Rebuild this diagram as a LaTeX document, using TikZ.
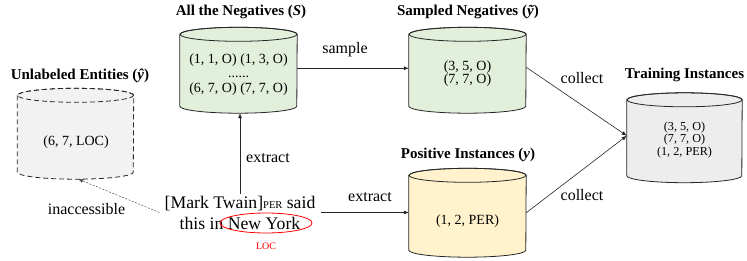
\documentclass[tikz,border=0pt]{standalone}
\usepackage{fontspec}
\setmainfont{Liberation Serif}
\usetikzlibrary{arrows.meta,shapes.geometric}
\definecolor{negfill}{RGB}{226,239,218}
\definecolor{posfill}{RGB}{255,242,204}
\definecolor{trainfill}{RGB}{237,237,237}
\definecolor{unlfill}{RGB}{242,242,242}
\newcommand\mycyl[3]{%
  \path[#3] (#1.north west) -- (#1.south west)
    arc[start angle=180,end angle=360,x radius=#2pt,y radius=7pt]
    -- (#1.north east)
    arc[start angle=0,end angle=180,x radius=#2pt,y radius=7pt] -- cycle;
  \path[#3,fill=none] (#1.north) ellipse[x radius=#2pt,y radius=7pt];}
\tikzset{
  body/.style={inner sep=0pt},
  cylline/.style={draw=black!85,line width=0.8pt},
  celltext/.style={font=\fontsize{14}{14.5}\selectfont,align=center,inner sep=0pt},
  title/.style={font=\fontsize{15}{17}\selectfont\bfseries,inner sep=0pt},
  lbl/.style={font=\fontsize{16}{18}\selectfont,inner sep=0pt},
  arr/.style={-{Latex[length=5pt,width=4pt]},line width=0.6pt,draw=black!85},
}
\begin{document}
\begin{tikzpicture}[x=1pt,y=1pt]
\useasboundingbox (0,0) rectangle (747,260);
% cylinder bodies
\node[body,minimum width=117pt,minimum height=71.5pt] (neg) at (238.5,189.75) {};
\node[body,minimum width=117pt,minimum height=71.5pt] (samp) at (467.5,189.75) {};
\node[body,minimum width=115pt,minimum height=75.5pt] (train) at (684.5,122.25) {};
\node[body,minimum width=116pt,minimum height=76.5pt] (unl) at (75.5,126.25) {};
\node[body,minimum width=117pt,minimum height=74.5pt] (pos) at (467.5,47.25) {};
\mycyl{neg}{58.5}{cylline,fill=negfill}
\mycyl{samp}{58.5}{cylline,fill=negfill}
\mycyl{train}{57.5}{cylline,fill=trainfill}
\mycyl{unl}{58}{cylline,fill=unlfill,dashed,dash pattern=on 5pt off 3pt}
\mycyl{pos}{58.5}{cylline,fill=posfill}
% contents
\node[celltext] (negtxt) at (238.5,185) {(1, 1, O) (1, 3, O)\\[-1pt]......\\[1pt](6, 7, O) (7, 7, O)};
\node[celltext,font=\fontsize{14}{13}\selectfont] (samptxt) at (467.5,186.5) {(3, 5, O)\\(7, 7, O)};
\node[celltext,font=\fontsize{12.2}{12.6}\selectfont] (traintxt) at (684.5,120) {(3, 5, O)\\(7, 7, O)\\(1, 2, PER)};
\node[celltext] (unltxt) at (76,118) {(6, 7, LOC)};
\node[celltext] (postxt) at (467.5,39) {(1, 2, PER)};
% titles
\node[title] (tneg) at (241,248) {All the Negatives (\textit{S})};
\node[title] (tsamp) at (468,248) {Sampled Negatives (\textit{\~y})};
\node[title] (tunl) at (80,184) {Unlabeled Entities (\textit{\^y})};
\node[title] (ttrain) at (684.5,185) {Training Instances};
\node[title] (tpos) at (468,105) {Positive Instances (\textit{y})};
% sentence
\node[font=\fontsize{17.7}{21}\selectfont,align=center,inner xsep=5pt,inner ysep=2pt] (sent) at (240,47.5)
  {[Mark Twain]{\fontsize{10.5}{10}\selectfont PER} said\\this in New York};
\node[ellipse,draw=red,line width=0.8pt,minimum width=92pt,minimum height=20pt,inner sep=0pt] (ny) at (266,37) {};
\node[font=\fontsize{10}{10}\selectfont,text=red,inner sep=0pt] (loc) at (266,14) {LOC};
% connectors
\coordinate (negbot) at ([yshift=-7pt]neg.south);
\coordinate (unlbot) at (78,81);
\draw[arr] ([yshift=2pt]neg.east) -- ([yshift=2pt]samp.west);
\draw[arr] (sent.north) -- (sent.north |- negbot);
\draw[arr] (sent.east) -- (pos.west |- sent.east);
\draw[arr] ([yshift=3pt]samp.east) -- ([yshift=2pt]train.west);
\draw[arr] (pos.east) -- ([yshift=2pt]train.west);
\draw[arr,dashed,dash pattern=on 2pt off 1.5pt,line width=0.5pt,draw=black!70] (sent.west) -- (unlbot);
% labels
\node[lbl] (lsample) at (345,210) {sample};
\node[lbl] (lext1) at (268,102) {extract};
\node[lbl] (lext2) at (370,63) {extract};
\node[lbl] (lcol1) at (582,182) {collect};
\node[lbl] (lcol2) at (582,65) {collect};
\node[lbl] (linacc) at (86.5,51) {inaccessible};
\end{tikzpicture}
\end{document}
